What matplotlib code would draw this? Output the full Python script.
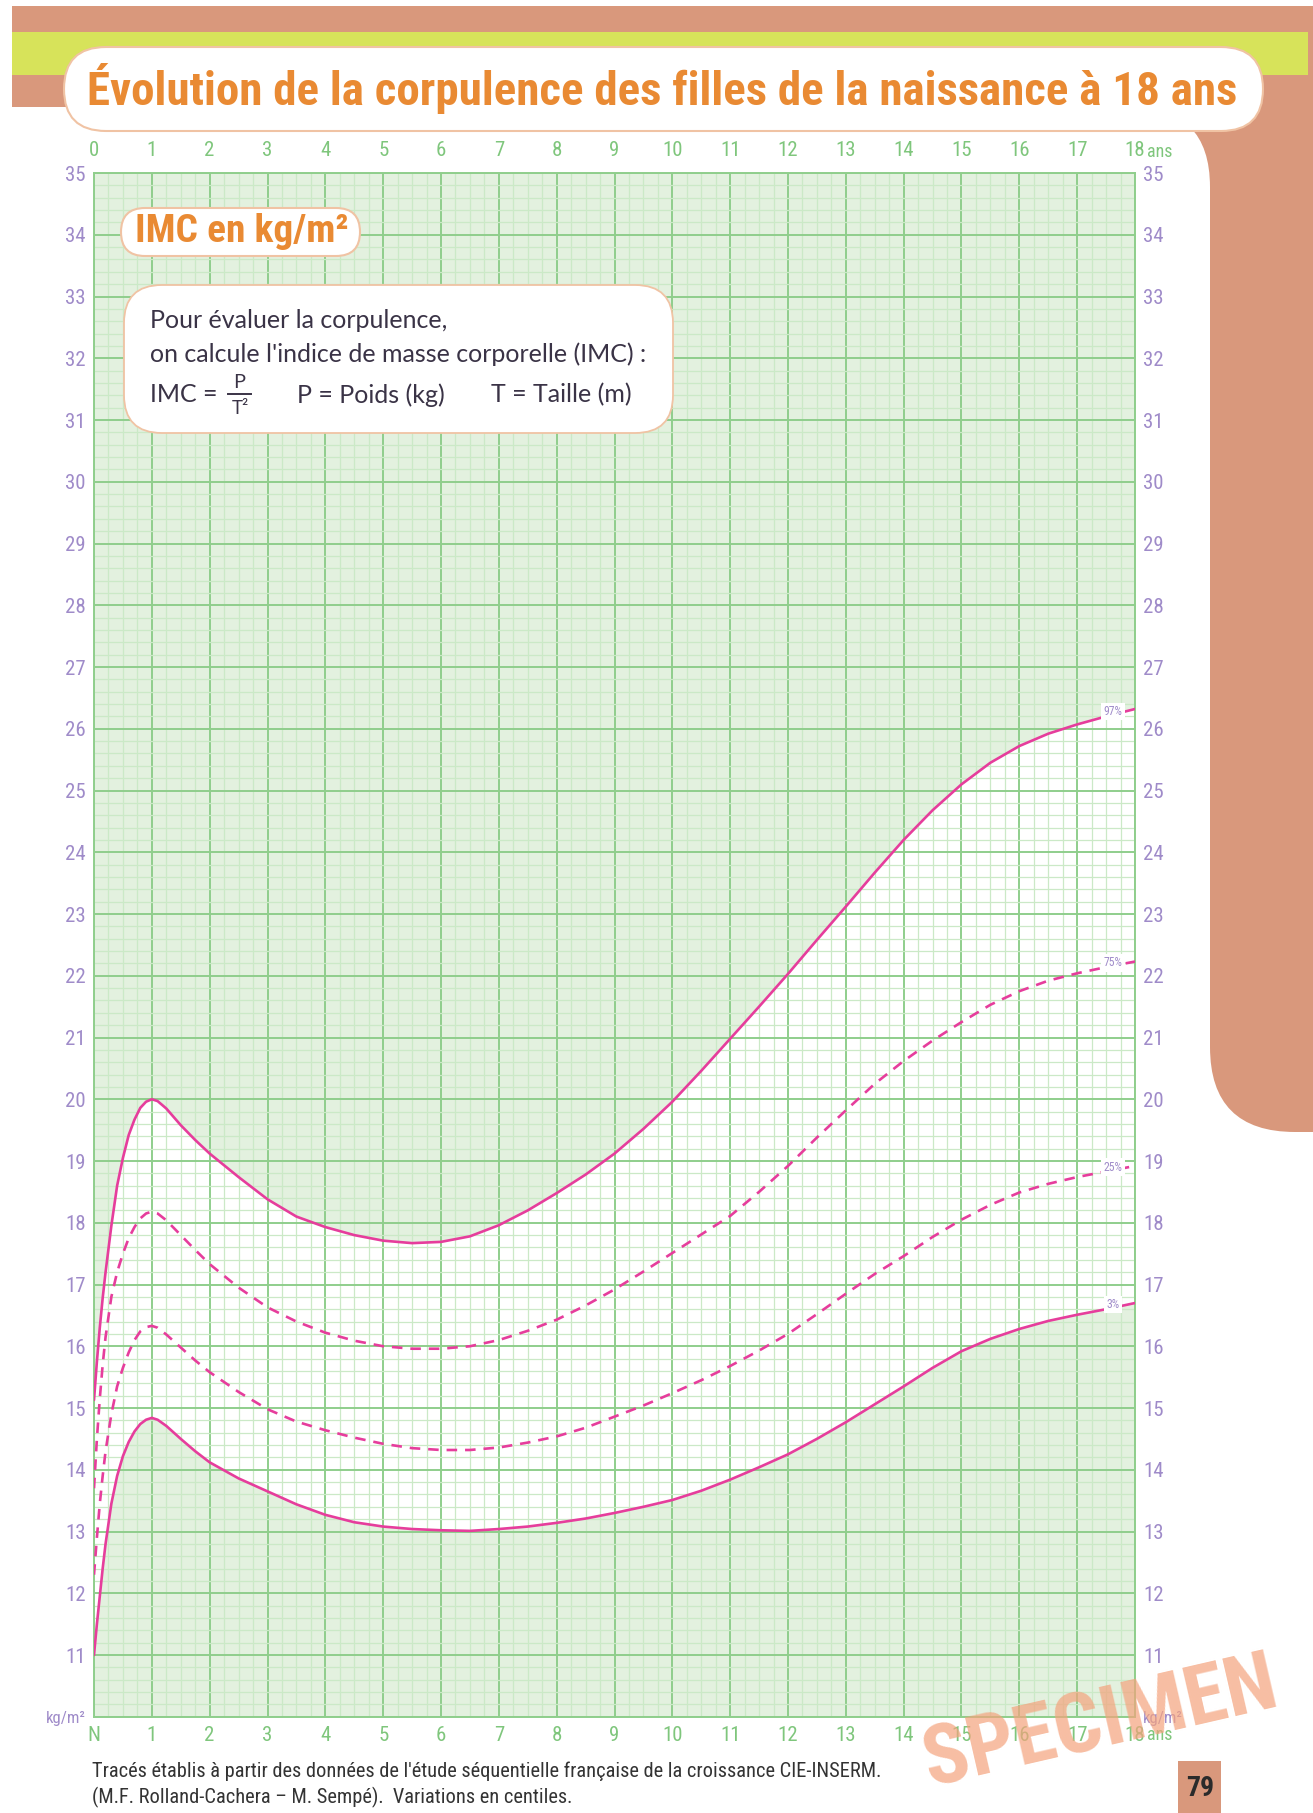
import os
import numpy as np
import matplotlib
matplotlib.use("Agg")
import matplotlib.pyplot as plt
from matplotlib import font_manager as fm
from matplotlib.patches import FancyBboxPatch
from matplotlib.ticker import MultipleLocator
from matplotlib.lines import Line2D

# ---------------- data ----------------
ages = [0, 0.05, 0.1, 0.15, 0.2, 0.3, 0.4, 0.5, 0.6, 0.7, 0.8, 0.9, 1.0,
        1.1, 1.25, 1.5, 1.75, 2, 2.5, 3, 3.5, 4, 4.5, 5, 5.5, 6, 6.5, 7,
        7.5, 8, 8.5, 9, 9.5, 10, 10.5, 11, 11.5, 12, 12.5, 13, 13.5, 14,
        14.5, 15, 15.5, 16, 16.5, 17, 17.5, 18]
p97 = [15.13, 15.75, 16.3, 16.78, 17.2, 17.95, 18.6, 19.05, 19.42, 19.67, 19.86, 19.96, 20.0,
       19.97, 19.85, 19.58, 19.34, 19.12, 18.74, 18.38, 18.1, 17.93, 17.8, 17.71, 17.67, 17.69,
       17.78, 17.96, 18.2, 18.48, 18.78, 19.12, 19.52, 19.96, 20.46, 20.98, 21.5, 22.03, 22.58,
       23.12, 23.67, 24.2, 24.68, 25.1, 25.45, 25.72, 25.92, 26.07, 26.2, 26.32]
p75 = [13.7, 14.5, 15.15, 15.7, 16.15, 16.8, 17.2, 17.5, 17.75, 17.93, 18.07, 18.15, 18.18,
       18.15, 18.04, 17.8, 17.56, 17.33, 16.95, 16.63, 16.4, 16.22, 16.09, 16.0, 15.96, 15.96,
       16.0, 16.1, 16.25, 16.43, 16.66, 16.92, 17.21, 17.51, 17.81, 18.11, 18.5, 18.92, 19.38,
       19.82, 20.25, 20.62, 20.95, 21.25, 21.53, 21.75, 21.92, 22.04, 22.14, 22.23]
p25 = [12.3, 12.9, 13.45, 13.9, 14.3, 14.9, 15.35, 15.65, 15.9, 16.1, 16.24, 16.31, 16.33,
       16.3, 16.19, 15.98, 15.77, 15.58, 15.26, 14.98, 14.78, 14.64, 14.52, 14.42, 14.35, 14.32,
       14.32, 14.36, 14.44, 14.54, 14.68, 14.86, 15.04, 15.24, 15.45, 15.68, 15.93, 16.2, 16.52,
       16.85, 17.17, 17.46, 17.77, 18.05, 18.29, 18.49, 18.63, 18.74, 18.83, 18.92]
p3 = [11.0, 11.5, 11.95, 12.4, 12.8, 13.45, 13.9, 14.22, 14.45, 14.62, 14.74, 14.81, 14.84,
      14.81, 14.71, 14.5, 14.3, 14.12, 13.86, 13.65, 13.44, 13.27, 13.15, 13.08, 13.04, 13.02,
      13.01, 13.04, 13.08, 13.14, 13.21, 13.3, 13.4, 13.51, 13.66, 13.84, 14.04, 14.25, 14.5,
      14.77, 15.06, 15.35, 15.65, 15.92, 16.12, 16.28, 16.41, 16.51, 16.6, 16.7]
centile_names = ["97%", "75%", "25%", "3%"]
x_top_labels = [str(i) for i in range(19)]
x_bottom_labels = ["N"] + [str(i) for i in range(1, 19)]
y_labels = ["kg/m²"] + [str(i) for i in range(11, 36)]

title = "Évolution de la corpulence des filles de la naissance à 18 ans"
info_lines = ["Pour évaluer la corpulence,",
              "on calcule l'indice de masse corporelle (IMC) :"]
footer_lines = ["Tracés établis à partir des données de l'étude séquentielle française de la croissance CIE-INSERM.",
                "(M.F. Rolland-Cachera – M. Sempé).  Variations en centiles."]


# ---------------- fonts ----------------
def pick_condensed():
    entries = fm.fontManager.ttflist
    names = {e.name for e in entries}
    for cand in ["Liberation Sans Narrow", "Roboto Condensed", "Open Sans Condensed",
                 "Noto Sans Condensed", "DejaVu Sans Condensed", "Arial Narrow",
                 "Nimbus Sans Narrow", "Ubuntu Condensed"]:
        if cand in names:
            return cand, "normal"
    cond = []
    for e in entries:
        fn = os.path.basename(e.fname).lower()
        st = str(e.stretch).lower()
        if ("condensed" in st or "narrow" in fn or "condensed" in fn) and "semi" not in fn \
                and "extra" not in fn and "ultra" not in fn:
            cond.append(e.name)
    for pref in ["Roboto", "Open Sans", "Noto Sans", "DejaVu Sans", "Liberation Sans"]:
        if pref in cond:
            return pref, "condensed"
    if cond:
        return cond[0], "condensed"
    return "DejaVu Sans", "normal"


NARROW_FAMILY, NARROW_STRETCH = pick_condensed()
HAVE_NARROW = NARROW_STRETCH == "condensed" or NARROW_FAMILY != "DejaVu Sans"
plt.rcParams["font.family"] = [NARROW_FAMILY, "DejaVu Sans"]
plt.rcParams["font.stretch"] = NARROW_STRETCH
NK = dict(family=[NARROW_FAMILY, "DejaVu Sans"], fontstretch=NARROW_STRETCH)
BK = dict(family=["Lato", "DejaVu Sans"], fontstretch="normal")
TICK_FS = 15 if HAVE_NARROW else 13

# ---------------- style ----------------
W, H = 1313, 1813
PINK = "#e63d9c"
GREEN_MAJ = "#8fce8c"
GREEN_MIN = "#cbe9c7"
FILL = "#e3f1df"
XLAB = "#7fc67c"
YLAB = "#9f8bc9"
SALMON = "#d9987c"
YELLOW = "#d7e35a"
ORANGE = "#e98a33"
BORDER = "#f0c3a4"
INK = "#3a3346"

fig = plt.figure(figsize=(W / 100, H / 100), dpi=100)
fig.patch.set_facecolor("white")

bg = fig.add_axes([0, 0, 1, 1])
bg.set_zorder(0)
bg.set_xlim(0, W)
bg.set_ylim(H, 0)
bg.axis("off")


def box(axh, x0, y0, x1, y1, fc, r=0, ec="none", lw=0, z=1):
    style = "round,pad=0,rounding_size=%g" % r if r else "square,pad=0"
    p = FancyBboxPatch((x0, y0), x1 - x0, y1 - y0, boxstyle=style,
                       fc=fc, ec=ec, lw=lw, zorder=z)
    axh.add_patch(p)
    return p


# page decoration
box(bg, 12, 6, 1308, 400, SALMON, z=1)
box(bg, 1210, 6, 1500, 1132, SALMON, r=85, z=1)
box(bg, -300, 107, 1210, 2200, "white", r=80, z=2)
box(bg, 12, 32, 1308, 75, YELLOW, z=3)
box(bg, 64, 47, 1263, 131, "white", r=42, ec=BORDER, lw=1.5, z=4)
box(bg, 1178, 1761, 1221, 1813, SALMON, z=4)

renderer = fig.canvas.get_renderer()


def fit(t, target):
    for _ in range(3):
        w = t.get_window_extent(renderer).width
        t.set_fontsize(t.get_fontsize() * target / w)


t_title = bg.text(662, 89, title, ha="center", va="center", weight="bold",
                  color=ORANGE, fontsize=30, zorder=6, **NK)
fit(t_title, 1151)

# ---------------- main chart ----------------
ax = fig.add_axes([94 / W, 1 - 1716.75 / H, (1135 - 94) / W, (1716.75 - 173) / H])
ax.set_zorder(2)
ax.set_xlim(0, 18)
ax.set_ylim(10, 35)
ax.set_facecolor("white")

ax.fill_between(ages, p97, 35, color=FILL, lw=0, zorder=0.2)
ax.fill_between(ages, 10, p3, color=FILL, lw=0, zorder=0.2)

ax.set_xticks(range(19), labels=x_bottom_labels)
ax.set_yticks(range(10, 36), labels=y_labels)
ax.xaxis.set_minor_locator(MultipleLocator(0.25))
ax.yaxis.set_minor_locator(MultipleLocator(0.2))
ax.set_axisbelow(True)
ax.grid(which="minor", color=GREEN_MIN, lw=0.9)
ax.grid(which="major", color=GREEN_MAJ, lw=1.4)
ax.tick_params(axis="both", which="both", length=0)
ax.tick_params(axis="x", labelcolor=XLAB, labelsize=TICK_FS, pad=7)
ax.tick_params(axis="y", labelcolor=YLAB, labelsize=TICK_FS, pad=6, labelright=True)
for s in ax.spines.values():
    s.set_color(GREEN_MAJ)
    s.set_linewidth(1.4)
t0 = ax.yaxis.get_major_ticks()[0]
t0.label1.set_fontsize(TICK_FS - 3)
t0.label2.set_fontsize(TICK_FS - 3)

sec = ax.secondary_xaxis("top")
sec.set_xticks(range(19), labels=x_top_labels)
sec.tick_params(length=0, labelcolor=XLAB, labelsize=TICK_FS, pad=9)
for s in sec.spines.values():
    s.set_visible(False)

ax.annotate("ans", xy=(18, 1), xycoords=("data", "axes fraction"), xytext=(8.5, 9),
            textcoords="offset points", ha="left", va="bottom", color=XLAB,
            fontsize=TICK_FS - 2, annotation_clip=False, **NK)
ax.annotate("ans", xy=(18, 0), xycoords=("data", "axes fraction"), xytext=(8.5, -7),
            textcoords="offset points", ha="left", va="top", color=XLAB,
            fontsize=TICK_FS - 2, annotation_clip=False, **NK)

series = [p97, p75, p25, p3]
styles = ["-", (0, (4, 3)), (0, (4, 3)), "-"]
for vals, ls, name in zip(series, styles, centile_names):
    ax.plot(ages, vals, color=PINK, lw=1.9, ls=ls, zorder=3, solid_capstyle="round")
    ly = np.interp(17.62, ages, vals)
    ax.text(17.62, ly + 0.05, name, ha="center", va="center", fontsize=8.5, color=YLAB,
            zorder=4, bbox=dict(boxstyle="square,pad=0.2", fc="white", ec="none"), **NK)

# ---------------- overlay (boxes, notes) ----------------
ov = fig.add_axes([0, 0, 1, 1])
ov.set_zorder(5)
ov.set_xlim(0, W)
ov.set_ylim(H, 0)
ov.axis("off")

box(ov, 121, 208, 360, 256, "white", r=24, ec=BORDER, lw=1.5, z=2)
t_imc = ov.text(242, 231, "IMC en kg/m²", ha="center", va="center", weight="bold",
                color=ORANGE, fontsize=26, zorder=3, **NK)
fit(t_imc, 214)

box(ov, 124, 285, 673, 433, "white", r=38, ec=BORDER, lw=1.3, z=2)
t1 = ov.text(150, 320, info_lines[0], ha="left", va="center", color=INK,
             fontsize=16, zorder=3, **BK)
t2 = ov.text(150, 354, info_lines[1], ha="left", va="center", color=INK,
             fontsize=16, zorder=3, **BK)
fit(t2, 497)
fs = t2.get_fontsize()
t1.set_fontsize(fs)
ov.text(150, 395, "IMC =", ha="left", va="center", color=INK, fontsize=fs, zorder=3, **BK)
ov.text(239, 382, "P", ha="center", va="center", color=INK, fontsize=fs * 0.8, zorder=3, **BK)
ov.add_line(Line2D([228, 251], [394, 394], color=INK, lw=1.4, zorder=3))
ov.text(240, 408, "T²", ha="center", va="center", color=INK, fontsize=fs * 0.75, zorder=3, **BK)
ov.text(297, 395, "P = Poids (kg)", ha="left", va="center", color=INK, fontsize=fs,
        zorder=3, **BK)
ov.text(491, 395, "T = Taille (m)", ha="left", va="center", color=INK, fontsize=fs,
        zorder=3, **BK)

f1 = ov.text(92, 1771, footer_lines[0], ha="left", va="center", color="#333333",
             fontsize=12, zorder=3, **NK)
fit(f1, 794)
ov.text(92, 1797, footer_lines[1], ha="left", va="center", color="#333333",
        fontsize=f1.get_fontsize(), zorder=3, **NK)

ov.text(1200, 1789, "79", ha="center", va="center", weight="bold", color="#2b2b2b",
        fontsize=20, zorder=3, **NK)

spec = ov.text(1100, 1724, "SPECIMEN", ha="center", va="center", weight="bold",
               color="#f4a27c", alpha=0.7, fontsize=60, zorder=4, **NK)
fit(spec, 360)
spec.set_rotation(13)
spec.set_rotation_mode("anchor")

fig.savefig("out.png", dpi=100, facecolor="white")
